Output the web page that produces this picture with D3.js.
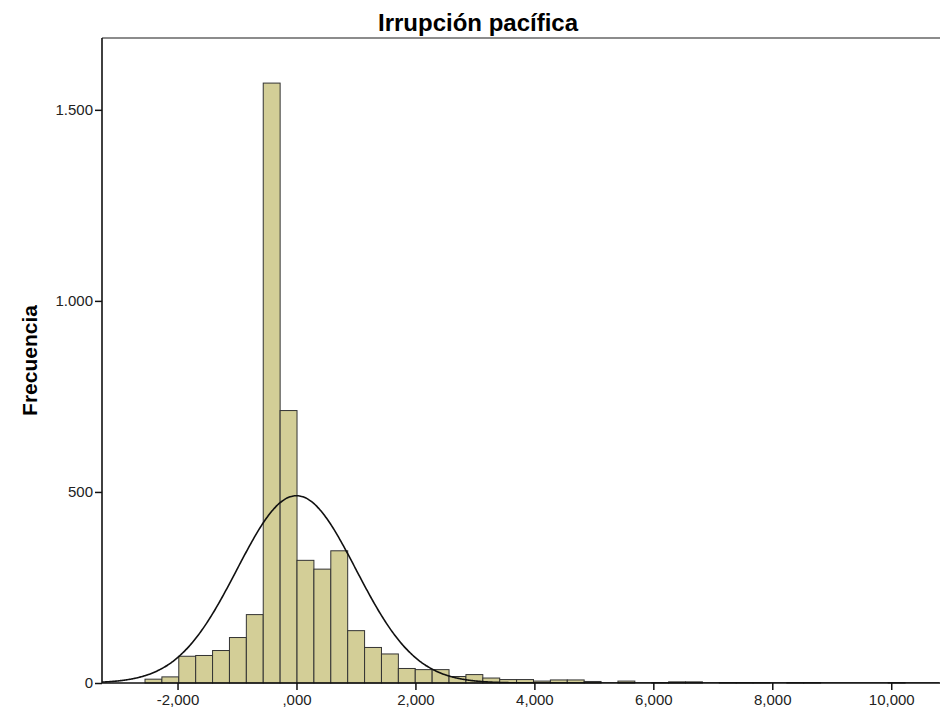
<!DOCTYPE html>
<html lang="es">
<head>
    <meta charset="UTF-8">
    <title>Irrupción pacífica</title>
    <script src="https://d3js.org/d3.v7.min.js"></script>
    <style>
        body { margin: 0; background: white; }
        text { font-family: "Liberation Sans", Arial, sans-serif; }
        .tick text { font-size: 15px; fill: #222; }
        .bar { fill: #d3ce97; stroke: #333; stroke-width: 1px; }
        .curve { fill: none; stroke: #111; stroke-width: 1.6px; }
    </style>
</head>
<body>
    <div id="chart"></div>

    <script>
        // histograma: límite inferior del primer intervalo y ancho de intervalo
        const binStart = -2.547;
        const binWidth = 0.284;
        const counts = [10, 16, 70, 72, 85, 119, 179, 1570, 713, 321, 298, 346, 137, 93, 76, 38,
            35, 35, 17, 22, 13, 9, 9, 5, 8, 8, 4, 0, 5, 0, 1, 3, 3, 0, 1, 1, 1, 0, 1, 1, 0, 0, 0, 0, 1, 0, 0];

        // curva normal
        const curveMean = 0;
        const curveSd = 1;

        const xTicks = [-2, 0, 2, 4, 6, 8, 10];
        const xTickLabels = ["-2,000", ",000", "2,000", "4,000", "6,000", "8,000", "10,000"];
        const yTicks = [0, 500, 1000, 1500];
        const yTickLabels = ["0", "500", "1.000", "1.500"];

        const width = 940;
        const height = 719;
        const margin = { top: 38, right: 0, bottom: 36, left: 102 };

        const svg = d3.select("#chart")
            .append("svg")
            .attr("width", width)
            .attr("height", height);

        const x = d3.scaleLinear()
            .domain([-3.27, 10.82])
            .range([margin.left, width - margin.right]);

        const y = d3.scaleLinear()
            .domain([0, 1688])
            .range([height - margin.bottom, margin.top]);

        const bins = counts.map((c, i) => ({
            x0: binStart + i * binWidth,
            x1: binStart + (i + 1) * binWidth,
            count: c
        })).filter(d => d.count > 0);

        svg.append("clipPath").attr("id", "plot-clip")
            .append("rect")
            .attr("x", margin.left)
            .attr("y", margin.top)
            .attr("width", width - margin.left - margin.right)
            .attr("height", height - margin.top - margin.bottom);

        // marco superior
        svg.append("line")
            .attr("x1", margin.left).attr("x2", width)
            .attr("y1", margin.top).attr("y2", margin.top)
            .attr("stroke", "#8c8c8c")
            .attr("stroke-width", 2);

        svg.append("g")
            .selectAll("rect")
            .data(bins)
            .enter().append("rect")
            .attr("class", "bar")
            .attr("x", d => x(d.x0))
            .attr("y", d => y(d.count))
            .attr("width", d => x(d.x1) - x(d.x0))
            .attr("height", d => y(0) - y(d.count));

        const n = d3.sum(counts);
        const pdf = v => Math.exp(-0.5 * Math.pow((v - curveMean) / curveSd, 2)) / (curveSd * Math.sqrt(2 * Math.PI));
        const curvePts = d3.range(x.domain()[0], x.domain()[1], 0.02).map(v => [v, n * binWidth * pdf(v)]);

        svg.append("path")
            .datum(curvePts)
            .attr("class", "curve")
            .attr("clip-path", "url(#plot-clip)")
            .attr("d", d3.line().x(d => x(d[0])).y(d => y(d[1])).curve(d3.curveBasis));

        const xAxis = svg.append("g")
            .attr("transform", `translate(0,${y(0)})`)
            .call(d3.axisBottom(x)
                .tickValues(xTicks)
                .tickSize(7)
                .tickPadding(4)
                .tickFormat((d, i) => xTickLabels[i]));
        xAxis.select(".domain").remove();
        xAxis.append("line")
            .attr("x1", margin.left).attr("x2", width)
            .attr("stroke", "#111").attr("stroke-width", 1.6);
        xAxis.selectAll(".tick line").attr("stroke", "#111").attr("stroke-width", 1.5);

        const yAxis = svg.append("g")
            .attr("transform", `translate(${margin.left},0)`)
            .call(d3.axisLeft(y)
                .tickValues(yTicks)
                .tickSize(7)
                .tickPadding(2)
                .tickFormat((d, i) => yTickLabels[i]));
        yAxis.select(".domain").remove();
        yAxis.append("line")
            .attr("y1", margin.top).attr("y2", y(0))
            .attr("stroke", "#111").attr("stroke-width", 1.6);
        yAxis.selectAll(".tick line").attr("stroke", "#111").attr("stroke-width", 1.5);

        svg.append("text")
            .attr("x", 478)
            .attr("y", 31)
            .attr("text-anchor", "middle")
            .style("font-size", "24px")
            .style("font-weight", "bold")
            .text("Irrupción pacífica");

        svg.append("text")
            .attr("transform", `translate(37,${(margin.top + y(0)) / 2}) rotate(-90)`)
            .attr("text-anchor", "middle")
            .style("font-size", "21px")
            .style("font-weight", "bold")
            .text("Frecuencia");
    </script>
</body>
</html>
